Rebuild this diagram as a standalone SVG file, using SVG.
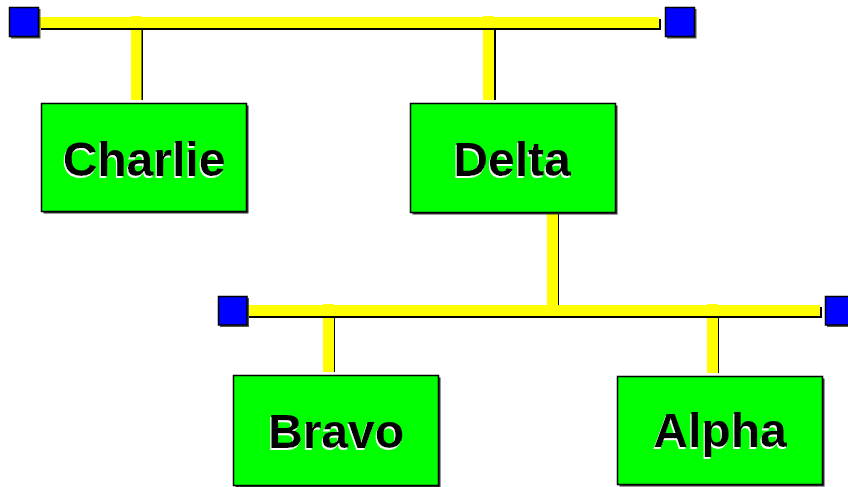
<svg xmlns="http://www.w3.org/2000/svg" width="848" height="487" viewBox="0 0 848 487">
<defs>
  <filter id="wsh" x="-10%" y="-20%" width="120%" height="140%">
    <feDropShadow dx="-1" dy="2" stdDeviation="0" flood-color="#ffffff" flood-opacity="1"/>
  </filter>
</defs>
<style>
.sh{fill:#000}
.bus{fill:#ffff00}
.term{fill:#0000ff;stroke:#000;stroke-width:1.5}
.tsh{fill:#555}
.box{fill:#00ff00;stroke:#000;stroke-width:1.5}
.bsh{fill:#333}
.lbl{font-family:"Liberation Sans",Arial,sans-serif;font-weight:bold;font-size:48px;text-anchor:middle;fill:#000;filter:url(#wsh)}
</style>
<rect width="848" height="487" fill="#fff"/>
<g id="connectors">
  <rect class="sh" x="133" y="18" width="10" height="82"/>
  <rect class="bus" x="131" y="16" width="10.5" height="84"/>
  <rect class="sh" x="485" y="18" width="11" height="82"/>
  <rect class="bus" x="483" y="16" width="11" height="84"/>
  <rect class="sh" x="549" y="213" width="10" height="92"/>
  <rect class="bus" x="547" y="213" width="11" height="92"/>
  <rect class="sh" x="325" y="306" width="10" height="66"/>
  <rect class="bus" x="323" y="304" width="11" height="68"/>
  <rect class="sh" x="709" y="306" width="10" height="67"/>
  <rect class="bus" x="707" y="304" width="11" height="69"/>
  <rect class="sh" x="41" y="19" width="620" height="11"/>
  <rect class="bus" x="39" y="17" width="620" height="11"/>
  <rect class="sh" x="249" y="307" width="573" height="11"/>
  <rect class="bus" x="247" y="305" width="573" height="11"/>
</g>
<g id="term-top-left">
  <rect class="tsh" x="11" y="9" width="29.5" height="29.5"/>
  <rect class="term" x="9.5" y="7.5" width="29" height="29"/>
</g>
<g id="term-top-right">
  <rect class="tsh" x="667" y="9" width="29.5" height="29.5"/>
  <rect class="term" x="665.5" y="7.5" width="29" height="29"/>
</g>
<g id="term-bottom-left">
  <rect class="tsh" x="220" y="298" width="29" height="29"/>
  <rect class="term" x="218.5" y="296.5" width="28.5" height="28.5"/>
</g>
<g id="term-bottom-right">
  <rect class="tsh" x="827" y="298" width="29" height="29"/>
  <rect class="term" x="825.5" y="296.5" width="28.5" height="28.5"/>
</g>
<g id="charlie">
  <rect class="bsh" x="43.5" y="105.5" width="205" height="108"/>
  <rect class="box" x="41.5" y="103.5" width="205" height="108"/>
  <text class="lbl" x="144" y="176">Charlie</text>
</g>
<g id="delta">
  <rect class="bsh" x="412.5" y="105.5" width="205" height="109"/>
  <rect class="box" x="410.5" y="103.5" width="205" height="109"/>
  <text class="lbl" x="512" y="176">Delta</text>
</g>
<g id="bravo">
  <rect class="bsh" x="235.5" y="377.5" width="205" height="110"/>
  <rect class="box" x="233.5" y="375.5" width="205" height="110"/>
  <text class="lbl" x="336" y="448">Bravo</text>
</g>
<g id="alpha">
  <rect class="bsh" x="619.5" y="378.5" width="205" height="108"/>
  <rect class="box" x="617.5" y="376.5" width="205" height="108"/>
  <text class="lbl" x="720" y="447">Alpha</text>
</g>
</svg>
